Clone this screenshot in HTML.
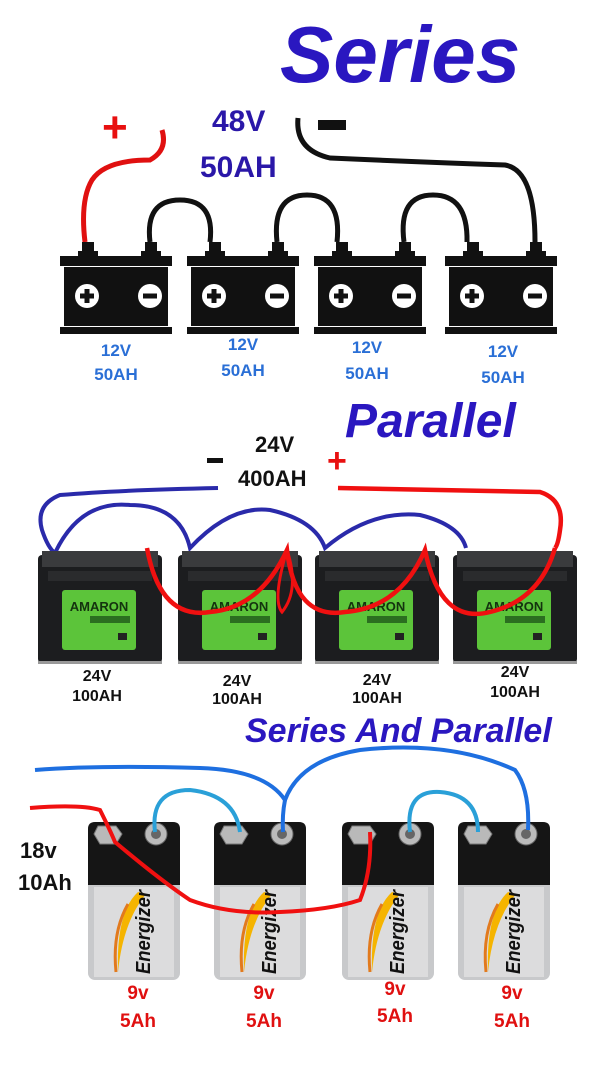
<!DOCTYPE html>
<html><head><meta charset="utf-8"><style>
html,body{margin:0;padding:0;background:#fff;}
svg{display:block;}
text{font-family:"Liberation Sans",sans-serif;font-weight:bold;}
</style></head><body>
<svg width="607" height="1080" viewBox="0 0 607 1080" xmlns="http://www.w3.org/2000/svg">
<defs>
<g id="sb">
  <rect x="22" y="-14" width="12" height="10" fill="#111"/>
  <rect x="18" y="-5" width="20" height="6" fill="#111"/>
  <rect x="85" y="-14" width="12" height="10" fill="#111"/>
  <rect x="81" y="-5" width="20" height="6" fill="#111"/>
  <rect x="0" y="0" width="112" height="10" fill="#111"/>
  <rect x="4" y="11" width="104" height="59" fill="#111"/>
  <rect x="0" y="71" width="112" height="7" fill="#111"/>
  <circle cx="27" cy="40" r="12" fill="#fff"/>
  <rect x="20" y="37.5" width="14" height="5" fill="#111"/><rect x="24.5" y="33" width="5" height="14" fill="#111"/>
  <circle cx="90" cy="40" r="12" fill="#fff"/>
  <rect x="83" y="37.5" width="14" height="5" fill="#111"/>
</g>
<g id="ab">
  <rect x="0" y="10" width="124" height="108" rx="4" fill="#1c1d1f"/>
  <rect x="4" y="6" width="116" height="16" fill="#3a3b3d"/>
  <rect x="10" y="26" width="104" height="10" fill="#2a2b2d"/>
  <rect x="24" y="45" width="74" height="60" rx="3" fill="#5cc43a"/>
  <text x="61" y="66" font-size="13" text-anchor="middle" fill="#14330f">AMARON</text>
  <rect x="52" y="71" width="40" height="7" fill="#2b6e20"/>
  <rect x="80" y="88" width="9" height="7" fill="#222"/>
  <rect x="0" y="116" width="124" height="3" fill="#999"/>
</g>
<g id="nb">
  <rect x="0" y="0" width="92" height="158" rx="7" fill="#c8c9cb"/>
  <rect x="6" y="65" width="80" height="90" fill="#dcdcdd"/>
  <path d="M0 7 Q0 0 7 0 H85 Q92 0 92 7 V63 H0 Z" fill="#151515"/>
  <polygon points="10,4 28,4 34,12 28,22 12,22 6,12" fill="#b9b9b9" stroke="#777" stroke-width="1"/>
  <circle cx="68" cy="12" r="11" fill="#bbb" stroke="#666" stroke-width="1"/>
  <circle cx="68" cy="12" r="5" fill="#666"/>
  <path d="M50 70 Q28 90 30 150 Q35 100 58 72 Z" fill="#f5b400"/>
  <path d="M40 82 Q24 110 28 150" stroke="#e27a1d" stroke-width="3" fill="none"/>
  <text transform="translate(62,152) rotate(-90)" font-size="20" font-style="italic" fill="#111" textLength="84" lengthAdjust="spacingAndGlyphs">Energizer</text>
</g>
</defs>

<!-- SERIES -->
<text x="280" y="82" font-size="80" font-style="italic" fill="#2a17c0">Series</text>
<text x="102" y="142" font-size="44" fill="#e81010">+</text>
<text x="212" y="131" font-size="30" fill="#2a17a8">48V</text>
<text x="200" y="177" font-size="30" fill="#2a17a8">50AH</text>
<rect x="318" y="120" width="28" height="10" fill="#111"/>
<path d="M85 242 Q80 200 92 180 Q105 160 150 160 Q168 150 162 130" stroke="#e01010" stroke-width="5" fill="none"/>
<path d="M298 118 Q295 150 330 158 Q420 162 505 165 Q535 170 535 242" stroke="#111" stroke-width="5" fill="none"/>
<path d="M150 242 Q145 200 180 200 Q215 200 210 242" stroke="#111" stroke-width="5" fill="none"/>
<path d="M277 242 Q272 195 307 195 Q342 195 337 242" stroke="#111" stroke-width="5" fill="none"/>
<path d="M404 242 Q398 195 433 195 Q468 195 467 242" stroke="#111" stroke-width="5" fill="none"/>
<use href="#sb" x="60" y="256"/>
<use href="#sb" x="187" y="256"/>
<use href="#sb" x="314" y="256"/>
<use href="#sb" x="445" y="256"/>
<g font-size="17" fill="#2a6fd6" text-anchor="middle">
<text x="116" y="356">12V</text><text x="116" y="380">50AH</text>
<text x="243" y="350">12V</text><text x="243" y="376">50AH</text>
<text x="367" y="353">12V</text><text x="367" y="379">50AH</text>
<text x="503" y="357">12V</text><text x="503" y="383">50AH</text>
</g>

<!-- PARALLEL -->
<text x="345" y="437" font-size="48" font-style="italic" fill="#2a17c0">Parallel</text>
<text x="255" y="452" font-size="22" fill="#111">24V</text>
<text x="238" y="486" font-size="22" fill="#111">400AH</text>
<rect x="207" y="458" width="16" height="5" fill="#111"/>
<text x="327" y="472" font-size="34" fill="#e81010">+</text>
<path d="M218 488 Q120 490 60 495 Q35 505 42 530 Q48 548 55 553 Q80 500 130 505 Q180 505 190 548 Q230 505 270 510 Q315 520 325 548 Q370 510 420 515 Q460 525 466 548" stroke="#2a2aaa" stroke-width="4" fill="none"/>
<use href="#ab" x="38" y="545"/>
<use href="#ab" x="178" y="545"/>
<use href="#ab" x="315" y="545"/>
<use href="#ab" x="453" y="545"/>
<path d="M338 488 Q450 490 540 492 Q565 500 560 530 Q558 545 555 548" stroke="#f01010" stroke-width="4.5" fill="none"/>
<path d="M147 548 Q160 620 210 612 Q260 608 287 550 Q295 620 345 612 Q400 608 425 550 Q440 625 490 612 Q540 600 555 548" stroke="#f01010" stroke-width="4.5" fill="none"/>
<path d="M287 550 Q300 590 282 612 Q272 600 287 550" stroke="#f01010" stroke-width="3" fill="none"/>
<g font-size="16" fill="#111" text-anchor="middle">
<text x="97" y="681">24V</text><text x="97" y="701">100AH</text>
<text x="237" y="686">24V</text><text x="237" y="704">100AH</text>
<text x="377" y="685">24V</text><text x="377" y="703">100AH</text>
<text x="515" y="677">24V</text><text x="515" y="697">100AH</text>
</g>

<!-- SERIES AND PARALLEL -->
<text x="245" y="742" font-size="34" font-style="italic" fill="#2a17c0">Series And Parallel</text>
<text x="20" y="858" font-size="22" fill="#111">18v</text>
<text x="18" y="890" font-size="22" fill="#111">10Ah</text>
<use href="#nb" x="88" y="822"/>
<use href="#nb" x="214" y="822"/>
<use href="#nb" x="342" y="822"/>
<use href="#nb" x="458" y="822"/>
<path d="M35 770 Q100 765 200 768 Q265 770 285 800 Q300 760 360 750 Q450 740 515 770 Q530 790 528 830" stroke="#1e6fe0" stroke-width="4" fill="none"/>
<path d="M285 800 Q282 815 283 832" stroke="#1e6fe0" stroke-width="4" fill="none"/>
<path d="M155 832 Q150 790 190 790 Q235 795 240 832" stroke="#2aa0d8" stroke-width="4" fill="none"/>
<path d="M410 832 Q405 790 440 792 Q478 795 478 832" stroke="#2aa0d8" stroke-width="4" fill="none"/>
<path d="M30 808 Q80 804 100 810 Q110 830 115 842 Q160 880 190 900 Q230 915 280 912 Q330 910 360 900 Q372 870 370 832" stroke="#f01010" stroke-width="4" fill="none"/>
<g font-size="19" fill="#e01010" text-anchor="middle">
<text x="138" y="999">9v</text><text x="138" y="1027">5Ah</text>
<text x="264" y="999">9v</text><text x="264" y="1027">5Ah</text>
<text x="395" y="995">9v</text><text x="395" y="1022">5Ah</text>
<text x="512" y="999">9v</text><text x="512" y="1027">5Ah</text>
</g>
</svg>
</body></html>
